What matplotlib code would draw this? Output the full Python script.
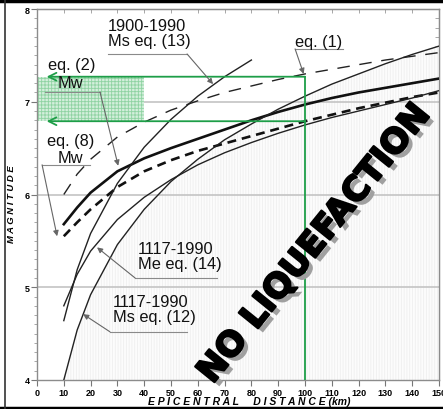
import matplotlib
matplotlib.use("Agg")
import matplotlib.pyplot as plt
from matplotlib.lines import Line2D
from matplotlib.ticker import MultipleLocator, NullFormatter
import matplotlib.patheffects as pe

# ---------------- data ----------------
dist = [10, 15, 20, 30, 40, 50, 60, 70, 80, 90, 100, 110, 120, 130, 140, 150]
eq1_dashed   = [6.00, 6.22, 6.38, 6.62, 6.78, 6.91, 7.01, 7.10, 7.17, 7.24, 7.30, 7.35, 7.40, 7.45, 7.49, 7.53]
eq2_mw       = [5.68, 5.86, 6.02, 6.25, 6.39, 6.50, 6.60, 6.70, 6.80, 6.89, 6.97, 7.04, 7.10, 7.15, 7.20, 7.25]
eq8_mw       = [5.55, 5.70, 5.84, 6.08, 6.25, 6.37, 6.47, 6.55, 6.63, 6.71, 6.79, 6.86, 6.93, 6.99, 7.05, 7.10]
eq12_ms      = [4.00, 4.54, 4.92, 5.46, 5.84, 6.14, 6.38, 6.59, 6.76, 6.92, 7.06, 7.19, 7.30, 7.41, 7.51, 7.60]
eq14_me      = [4.80, 5.14, 5.39, 5.73, 5.97, 6.16, 6.32, 6.45, 6.56, 6.66, 6.75, 6.83, 6.90, 6.97, 7.04, 7.12]
dist13       = [10, 15, 20, 30, 40, 50, 60, 70, 80]
eq13_ms      = [4.64, 5.19, 5.58, 6.12, 6.51, 6.81, 7.06, 7.27, 7.45]

mw_range = [6.79, 7.27]      # green band (magnitude)
mw_dist_limit = 100          # green vertical line (km)
patch_dist = [0, 40]

xticks = list(range(0, 151, 10))
yticks = [4, 5, 6, 7, 8]

# ---------------- figure ----------------
W, H = 443, 410
fig = plt.figure(figsize=(W / 100, H / 100), dpi=100)
ax = fig.add_axes([37 / W, 1 - 381 / H, (439 - 37) / W, (381 - 10) / H])
ax.set_xlim(0, 150)
ax.set_ylim(4, 8)

green = "#1e9e48"
grey = "#8a8a8a"

# no-liquefaction hatched region (below eq. 12)
plt.rcParams["hatch.linewidth"] = 0.6
ax.fill_between(dist, 4, eq12_ms, facecolor="#fcfcfc", edgecolor="#efefef",
                hatch="||||||", lw=0, zorder=0.5)

# horizontal grid
for yv in [5, 6, 7]:
    ax.axhline(yv, color="#c4c4c4", lw=1.2, zorder=0.8)

# green Mw patch
ax.fill_between(patch_dist, mw_range[0], mw_range[1], facecolor="#d3efdb",
                edgecolor="#8fd3a2", hatch="+++++", lw=0, zorder=0.9)

# curves
ax.plot(dist, eq1_dashed, color="#222222", lw=1.0, dashes=(9, 7), zorder=3)
ax.plot(dist, eq2_mw, color="#111111", lw=1.9, zorder=3)
ax.plot(dist, eq8_mw, color="#111111", lw=1.9, dashes=(3.4, 2.2), zorder=3)
ax.plot(dist, eq12_ms, color="#222222", lw=1.0, zorder=3)
ax.plot(dist, eq14_me, color="#222222", lw=1.0, zorder=3)
ax.plot(dist13, eq13_ms, color="#222222", lw=1.0, zorder=3)

# green construction lines
ax.plot([mw_dist_limit, mw_dist_limit], [4, mw_range[1]], color=green, lw=1.3, zorder=4)
for yv in mw_range:
    ax.annotate("", xy=(3.6, yv), xytext=(mw_dist_limit, yv),
                arrowprops=dict(arrowstyle="->", color=green, lw=1.3,
                                mutation_scale=14, shrinkA=0, shrinkB=0),
                zorder=4)

# labels with underline + leader arrow
lab_font = dict(family=["Liberation Sans", "DejaVu Sans"], fontsize=11.8, color="#111111")
arrow_kw = dict(arrowstyle="-|>", color="#666666", lw=0.8, mutation_scale=8, shrinkA=0, shrinkB=0)

def leader(start, tip, ul_x0, ul_x1, ul_y):
    ax.plot([ul_x0, ul_x1], [ul_y, ul_y], color=grey, lw=0.8, zorder=5)
    ax.annotate("", xy=tip, xytext=start, arrowprops=arrow_kw, zorder=5)

ax.text(26.5, 7.90, "1900-1990\nMs eq. (13)", ha="left", va="top", linespacing=1.0, zorder=6, **lab_font)
leader((56.0, 7.515), (65.7, 7.19), 26.5, 56.0, 7.515)

ax.text(96.3, 7.73, "eq. (1)", ha="left", va="top", zorder=6, **lab_font)
leader((96.3, 7.57), (99.5, 7.30), 96.3, 114.2, 7.57)

ax.text(4.1, 7.48, "eq. (2)", ha="left", va="top", zorder=6, **lab_font)
ax.text(12.3, 7.29, "Mw", ha="center", va="top", zorder=6, **lab_font)
leader((23.5, 7.105), (30.3, 6.31), 3.0, 23.5, 7.105)

ax.text(3.8, 6.66, "eq. (8)", ha="left", va="top", zorder=6, **lab_font)
ax.text(12.3, 6.48, "Mw", ha="center", va="top", zorder=6, **lab_font)
leader((1.9, 6.32), (7.5, 5.55), 1.9, 19.8, 6.32)

ax.text(37.7, 5.50, "1117-1990\nMe eq. (14)", ha="left", va="top", linespacing=1.0, zorder=6, **lab_font)
leader((36.6, 5.10), (22.4, 5.43), 36.6, 67.2, 5.10)

ax.text(28.2, 4.93, "1117-1990\nMs eq. (12)", ha="left", va="top", linespacing=1.0, zorder=6, **lab_font)
leader((27.2, 4.52), (17.2, 4.71), 27.2, 56.0, 4.52)

# big diagonal text
ax.text(103.5, 5.47, "NO LIQUEFACTION", rotation=51, rotation_mode="anchor",
        ha="center", va="center", fontsize=24.5, fontweight="bold",
        family=["DejaVu Sans"], color="black", zorder=7,
        path_effects=[pe.withSimplePatchShadow(offset=(3.5, -3), shadow_rgbFace="#a0a0a0", alpha=1),
                      pe.Stroke(linewidth=1.6, foreground="black"), pe.Normal()])

# ticks
ax.set_xticks(xticks)
ax.set_yticks(yticks)
ax.yaxis.set_minor_locator(MultipleLocator(0.1))
tick_font = dict(family=["Liberation Sans", "DejaVu Sans"], fontsize=6.5, fontweight="bold")
ax.set_xticklabels([str(v) for v in xticks], **tick_font)
ax.set_yticklabels([str(v) for v in yticks], **tick_font)
ax.tick_params(axis="both", which="major", direction="out", length=4, width=0.8,
               color="#777777", pad=1.5)
ax.tick_params(axis="y", which="minor", direction="out", length=2.5, width=0.6,
               color="#999999")
for s in ax.spines.values():
    s.set_color("#8c8c8c")
    s.set_linewidth(1.0)

# inward ticks on top and right
sec_x = ax.secondary_xaxis("top")
sec_x.set_xticks(xticks)
sec_x.xaxis.set_major_formatter(NullFormatter())
sec_x.tick_params(direction="in", length=3, width=0.6, color="#999999")
sec_x.spines["top"].set_color("#8c8c8c")
sec_y = ax.secondary_yaxis("right")
sec_y.set_yticks(yticks)
sec_y.yaxis.set_minor_locator(MultipleLocator(0.1))
sec_y.yaxis.set_major_formatter(NullFormatter())
sec_y.tick_params(which="both", direction="in", length=3, width=0.6, color="#999999")
sec_y.spines["right"].set_color("#8c8c8c")

# axis titles
fig.text(249 / W, 1 - 402.5 / H, "E P I C E N T R A L     D I S T A N C E (km)", fontsize=7.5,
         fontweight="bold", style="italic", family=["Liberation Sans", "DejaVu Sans"],
         ha="center", va="center")
fig.text(12 / W, 1 - 204 / H, "M A G N I T U D E", fontsize=6.8, fontweight="bold",
         style="italic", family=["Liberation Sans", "DejaVu Sans"], rotation=90,
         ha="center", va="center")

# outer black frame
fig.add_artist(Line2D([0, 1], [1 - 1.5 / H, 1 - 1.5 / H], color="black", lw=2.5, transform=fig.transFigure))
fig.add_artist(Line2D([0, 1], [1 - 408.5 / H, 1 - 408.5 / H], color="black", lw=2.5, transform=fig.transFigure))
fig.add_artist(Line2D([4.5 / W, 4.5 / W], [0, 1], color="#333333", lw=1.2, transform=fig.transFigure))

fig.savefig("out.png", dpi=100)
